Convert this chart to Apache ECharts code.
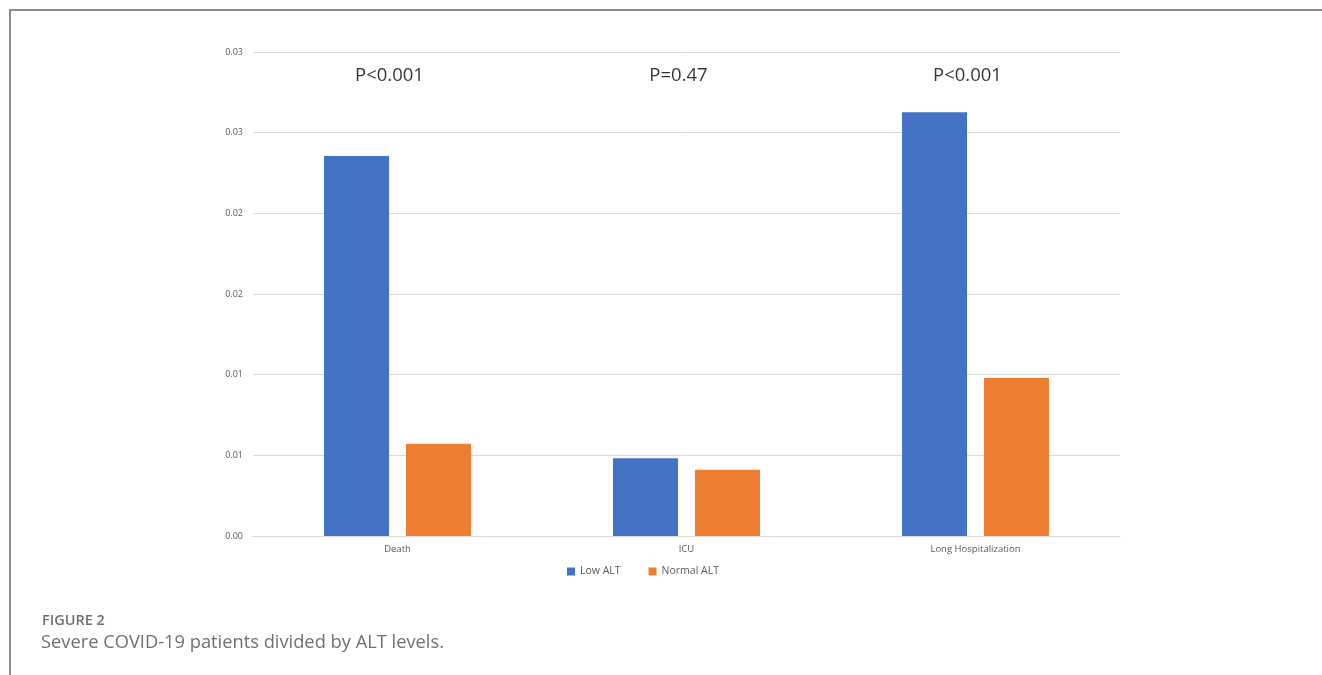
<!DOCTYPE html>
<html>
<head>
<meta charset="utf-8">
<script src="https://cdn.jsdelivr.net/npm/echarts@6/dist/echarts.min.js"></script>
<style>
  html, body { margin: 0; padding: 0; background: #fff; }
  #chart { width: 1322px; height: 675px; }
</style>
</head>
<body>
<div id="chart"></div>
<script>
// Outcome categories and proportions for each ALT group
const categories = ['Death', 'ICU', 'Long Hospitalization'];
const lowALT = [0.02355, 0.00482, 0.02626];
const normalALT = [0.00572, 0.00411, 0.00979];
const pValues = ['P<0.001', 'P=0.47', 'P<0.001'];
const pLabelLevel = 0.02852;
// Tick labels as printed on the value axis (two decimals)
const yTickLabels = ['0.00', '0.01', '0.01', '0.02', '0.02', '0.03', '0.03'];
const yStep = 0.005;

const chart = echarts.init(document.getElementById('chart'));

const option = {
  backgroundColor: '#ffffff',
  animation: false,
  title: [
    {
      text: 'FIGURE 2',
      left: 42, top: 613, padding: 0,
      textStyle: { fontFamily: 'Open Sans', fontSize: 14.5, fontWeight: 600, color: '#707070' }
    },
    {
      text: 'Severe COVID-19 patients divided by ALT levels.',
      left: 41, top: 634, padding: 0,
      textStyle: { fontFamily: 'Open Sans', fontSize: 18.3, fontWeight: 'normal', color: '#707070' }
    }
  ],
  graphic: [
    { type: 'line', shape: { x1: 9, y1: 10, x2: 1322, y2: 10 }, style: { stroke: '#8c8c8c', lineWidth: 2 } },
    { type: 'line', shape: { x1: 10, y1: 10, x2: 10, y2: 675 }, style: { stroke: '#8c8c8c', lineWidth: 2 } }
  ],
  legend: {
    data: ['Low ALT', 'Normal ALT'],
    left: 562, top: 561,
    itemWidth: 8, itemHeight: 8, itemGap: 28,
    icon: 'rect',
    textStyle: { fontFamily: 'Open Sans', fontSize: 10.5, color: '#595959' }
  },
  grid: { left: 253, right: 202, top: 52, bottom: 139, containLabel: false },
  xAxis: {
    type: 'category',
    data: categories,
    axisLine: { show: true, lineStyle: { color: '#d9d9d9' } },
    axisTick: { show: false },
    axisLabel: { fontFamily: 'Open Sans', fontSize: 9.5, color: '#595959', margin: 8 }
  },
  yAxis: {
    type: 'value',
    min: 0, max: 0.03, interval: yStep,
    axisLine: { show: false },
    axisTick: { show: false },
    splitLine: { lineStyle: { color: '#d9d9d9', width: 1 } },
    axisLabel: {
      fontFamily: 'Open Sans', fontSize: 9, color: '#595959', margin: 10,
      formatter: (v) => yTickLabels[Math.round(v / yStep)]
    }
  },
  series: [
    {
      name: 'Low ALT', type: 'bar', data: lowALT,
      barWidth: '22.5%', barGap: '26%',
      itemStyle: { color: '#4472C4' }
    },
    {
      name: 'Normal ALT', type: 'bar', data: normalALT,
      barWidth: '22.5%', barGap: '26%',
      itemStyle: { color: '#ED7D31' }
    },
    {
      name: 'p', type: 'scatter',
      data: categories.map((c, i) => [c, pLabelLevel, pValues[i]]),
      symbolSize: 0,
      silent: true,
      label: {
        show: true, position: 'inside', offset: [-8, 0],
        formatter: (p) => p.data[2],
        fontFamily: 'Open Sans', fontSize: 18.5, color: '#000000'
      }
    }
  ]
};

chart.setOption(option);
</script>
</body>
</html>
